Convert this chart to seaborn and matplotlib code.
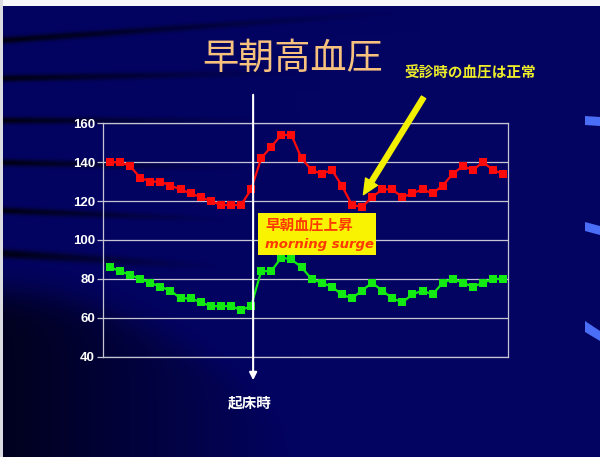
import numpy as np
import pandas as pd
import matplotlib
matplotlib.use("Agg")
import matplotlib.pyplot as plt
import seaborn as sns
from matplotlib.patches import Rectangle, Polygon, FancyArrowPatch

# Blood pressure readings across the day (mmHg)
readings = list(range(40))
systolic = [140, 140, 138, 132, 130, 130, 128, 126, 124, 122, 120, 118, 118, 118, 126,
            142, 148, 154, 154, 142, 136, 134, 136, 128, 118, 117, 122, 126, 126, 122,
            124, 126, 124, 128, 134, 138, 136, 140, 136, 134]
diastolic = [86, 84, 82, 80, 78, 76, 74, 70, 70, 68, 66, 66, 66, 64, 66,
             84, 84, 91, 90, 86, 80, 78, 76, 72, 70, 74, 78, 74, 70, 68,
             72, 74, 72, 78, 80, 78, 76, 78, 80, 80]
y_ticks = [40, 60, 80, 100, 120, 140, 160]
wake_index = 14.2

title_text = "早朝高血圧"
note_text = "受診時の血圧は正常"
wake_text = "起床時"
surge_jp = "早朝血圧上昇"
surge_en = "morning surge"

sns.set_theme(style="white")
plt.rcParams["font.family"] = ["Noto Sans CJK JP", "DejaVu Sans"]

W, H = 600, 457
fig = plt.figure(figsize=(W / 100, H / 100), dpi=100)

# ---- slide background: navy with dark sweeping bands ----
yy, xx = np.mgrid[0:H, 0:W].astype(float)
img = np.ones((H, W, 3)) * np.array([3, 3, 98]) / 255.0
dark = np.zeros((H, W))
bands = [(40, -0.07, 3.5, 420), (78, -0.02, 3.5, 320), (120, 0.0, 3.5, 280),
         (162, 0.02, 3.5, 260), (210, 0.04, 3.5, 240), (253, 0.06, 4.5, 230)]
for y0, s, ht, fade in bands:
    d = np.abs(yy - (y0 + s * xx))
    fall = np.clip(1 - xx / fade, 0, 1) ** 1.2
    dark = np.maximum(dark, 0.8 * np.exp(-(d / ht) ** 2) * fall)
yb = 292 + 0.0016 * xx ** 2
region = 1 / (1 + np.exp(-(yy - yb) / 10)) * np.clip(1 - xx / 300, 0, 1) ** 1.0
dark = np.maximum(dark, 0.7 * region)
img = img * (1 - dark[..., None])
img[:6, :, :] = [0.97, 0.97, 0.98]
img[:, :3, :] = [0.86, 0.86, 0.89]
fig.figimage(img, 0, 0, origin="upper", zorder=-5)


def fy(py):
    return 1 - py / H


def fx(px):
    return px / W


# blue slide accents on the right edge
for pts in ([(585, 116), (600, 117), (600, 126), (585, 125)],
            [(585, 222), (600, 226), (600, 235), (585, 231)],
            [(585, 321), (600, 331), (600, 341), (585, 332)]):
    fig.patches.append(Polygon([(fx(a), fy(b)) for a, b in pts], closed=True,
                               transform=fig.transFigure, fc="#4a6ef5", ec="none"))

# ---- chart ----
ax = fig.add_axes([fx(103.3), fy(356.7), fx(508) - fx(103.3), fy(123.3) - fy(356.7)])
ax.set_zorder(2)
ax.patch.set_alpha(0)

df = pd.DataFrame({
    "reading": readings * 2,
    "mmHg": systolic + diastolic,
    "series": ["systolic"] * len(readings) + ["diastolic"] * len(readings),
})
sns.lineplot(data=df, x="reading", y="mmHg", hue="series",
             palette={"systolic": "#ff0a0a", "diastolic": "#12ea12"},
             marker="s", markersize=6, markeredgewidth=0, linewidth=1.6,
             legend=False, ax=ax, zorder=3)

ax.set_xlim(-0.66, 39.48)
ax.set_ylim(40, 160)
ax.set_yticks(y_ticks)
ax.set_xticks([])
ax.set_xlabel("")
ax.set_ylabel("")
ax.yaxis.grid(True, color="#c4c4d2", linewidth=0.9, zorder=1)
ax.set_axisbelow(True)
for sp in ax.spines.values():
    sp.set_color("#c4c4d2")
    sp.set_linewidth(0.9)
ax.tick_params(axis="y", left=True, length=4, width=0.9, color="#c4c4d2", pad=2,
               labelcolor="white", labelsize=9.5)
for lab in ax.get_yticklabels():
    lab.set_fontfamily("Liberation Sans")
    lab.set_fontweight("bold")

# wake-up marker
ax.annotate("", xy=(wake_index, fy(383)), xytext=(wake_index, fy(92)),
            xycoords=("data", "figure fraction"), textcoords=("data", "figure fraction"),
            arrowprops=dict(arrowstyle="-|>", color="white", lw=1.5, mutation_scale=11),
            annotation_clip=False, zorder=6)
fig.text(fx(250), fy(402), wake_text, color="white", fontsize=10.5,
         fontweight="bold", ha="center", va="center")

# title and note
fig.text(fx(293), fy(59), title_text, color="#f7c17e", fontsize=26,
         ha="center", va="center")
fig.text(fx(470), fy(73), note_text, color="#ecec2a", fontsize=10.5,
         fontweight="bold", ha="center", va="center")

fig.patches.append(FancyArrowPatch((fx(425), fy(95)), (fx(362), fy(197)),
                                   transform=fig.transFigure,
                                   arrowstyle="simple,head_length=0.55,head_width=0.5,tail_width=0.18",
                                   mutation_scale=20, color="#f2f000", zorder=7))

# morning-surge call-out
fig.patches.append(Rectangle((fx(258), fy(255)), fx(376) - fx(258), fy(212.7) - fy(255),
                             transform=fig.transFigure, fc="#f9f200", ec="none", zorder=8))
fig.text(fx(265), fy(226), surge_jp, color="#ff3a00", fontsize=10.5,
         fontweight="bold", ha="left", va="center", zorder=9)
fig.text(fx(265), fy(244), surge_en, color="#ff3a00", fontsize=9.5,
         fontweight="bold", fontstyle="italic", family="DejaVu Sans",
         ha="left", va="center", zorder=9)

fig.savefig("out.png", dpi=100)
